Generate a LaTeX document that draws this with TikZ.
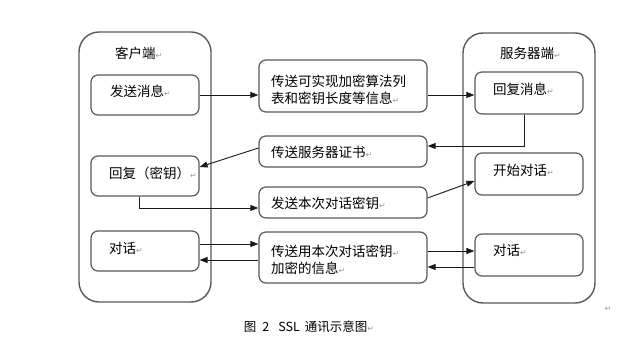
\documentclass[tikz,border=0pt]{standalone}
\usepackage{fontspec}
\setmainfont{Noto Sans CJK SC}
\newfontfamily\markfont{DejaVu Sans}
\usetikzlibrary{arrows.meta}
\newcommand\pmk{{\markfont\color{black!40}\fontsize{8}{8}\selectfont ↵}}
\tikzset{
  bigbox/.style={draw=black!65, line width=1.4pt, rounded corners=20pt, inner sep=0pt},
  box/.style={draw=black!65, line width=1.2pt, rounded corners=7pt, inner sep=0pt, minimum width=108pt, minimum height=40pt},
  midbox/.style={draw=black!65, line width=1.2pt, rounded corners=7pt, inner sep=0pt, minimum width=168pt},
  txt/.style={inner sep=0pt, anchor=west, font=\fontsize{13.5}{17}\selectfont, align=left},
  arr/.style={draw=black!90, line width=0.9pt, -{Triangle[length=8pt,width=6pt]}},
}
\begin{document}
\begin{tikzpicture}[x=1pt,y=-1pt]
\useasboundingbox (0,0) rectangle (631,344);
% big boxes
\node[bigbox, minimum width=132pt, minimum height=270pt] (client) at (145,167) {};
\node[bigbox, minimum width=132pt, minimum height=270pt] (server) at (529,168) {};
\node[txt] (tclient) at (115,53) {客户端\pmk};
\node[txt] (tserver) at (500,53) {服务器端\pmk};
% client boxes
\node[box] (send) at (145,95) {};
\node[box] (rkey) at (145,176) {};
\node[box] (ct) at (145,251) {};
\node[txt] (tsend) at (110,91) {发送消息\pmk};
\node[txt] (trkey) at (109,173) {回复（密钥）\pmk};
\node[txt] (tct) at (109,248) {对话\pmk};
% middle boxes
\node[midbox, minimum height=52pt] (info) at (343,86) {};
\node[midbox, minimum height=31pt] (cert) at (343,151.5) {};
\node[midbox, minimum height=31pt] (keyx) at (343,202.5) {};
\node[midbox, minimum height=51pt] (msg) at (343,257.5) {};
\node[txt] (tinfo) at (271,89.5) {传送可实现加密算法列\\表和密钥长度等信息\pmk};
\node[txt] (tcert) at (271,152) {传送服务器证书\pmk};
\node[txt] (tkeyx) at (271,203) {发送本次对话密钥\pmk};
\node[txt] (tmsg) at (271,260) {传送用本次对话密钥\pmk\\加密的信息\pmk};
% server boxes
\node[box, minimum height=42pt] (reply) at (529,93) {};
\node[box, minimum height=42pt] (start) at (529,174) {};
\node[box, minimum height=42pt] (st) at (529,255) {};
\node[txt] (treply) at (493,89) {回复消息\pmk};
\node[txt] (tstart) at (493,170) {开始对话\pmk};
\node[txt] (tst) at (493,250) {对话\pmk};
% connectors
\draw[arr] (send.east) -- (send.east -| info.west);
\draw[arr] ([yshift=-2pt]reply.west -| info.east) -- ([yshift=-2pt]reply.west);
\draw[arr] ([xshift=-5pt]reply.south) |- ([yshift=5.5pt]cert.east);
\draw[arr] ([yshift=3.5pt]cert.west) -- ([yshift=9pt]rkey.east);
\draw[arr] ([xshift=-6pt]rkey.south) |- ([yshift=-5.5pt]keyx.west);
\draw[arr] ([yshift=4.5pt]keyx.east) -- ([yshift=-7pt]start.west);
\draw[arr] ([yshift=7pt]ct.east) -- ([yshift=7pt]ct.east -| msg.west);
\draw[arr] ([yshift=-2.5pt]msg.west) -- ([yshift=-2.5pt]msg.west -| ct.east);
\draw[arr] ([yshift=6.5pt]msg.east) -- ([yshift=6.5pt]msg.east -| st.west);
\draw[arr] ([yshift=-12pt]st.west) -- ([yshift=-12pt]st.west -| msg.east);
% caption
\node[inner sep=0pt, font=\fontsize{12.5}{14}\selectfont] (cap) at (309,327) {图\hspace{6pt}2\hspace{9pt}SSL\hspace{5pt}通讯示意图\pmk};
\node[inner sep=0pt] (endmark) at (608,309) {\pmk};
\end{tikzpicture}
\end{document}
